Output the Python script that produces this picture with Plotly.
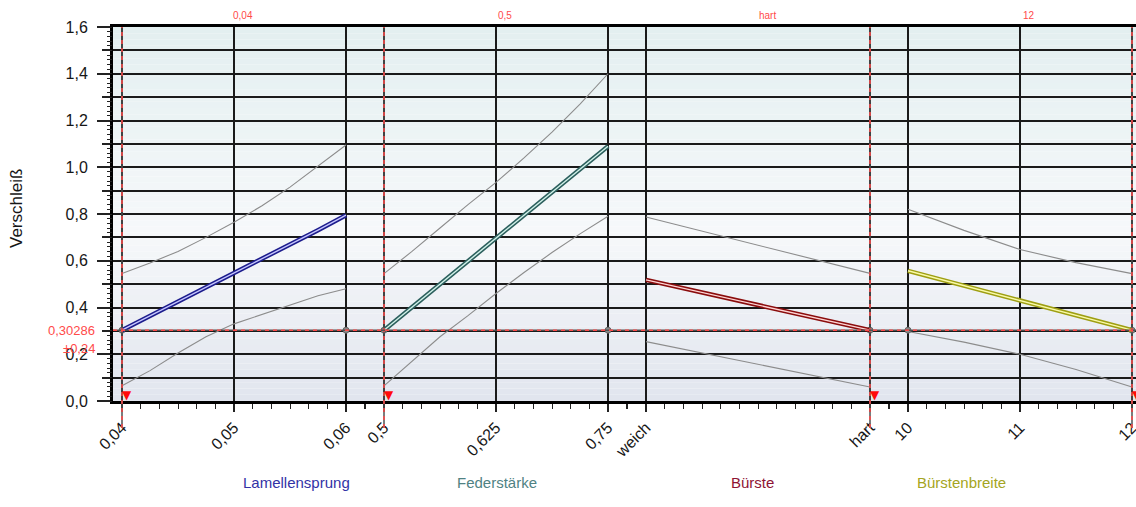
import numpy as np
import plotly.graph_objects as go

# ---------------- data ----------------
y_title = "Verschleiß"
factor_names = ["Lamellensprung", "Federstärke", "Bürste", "Bürstenbreite"]

lam_x = [0.04, 0.0425, 0.045, 0.0475, 0.05, 0.0525, 0.055, 0.0575, 0.06]
lam_pred = [0.303, 0.364, 0.425, 0.485, 0.545, 0.607, 0.669, 0.731, 0.795]
lam_upper = [0.545, 0.59, 0.64, 0.70, 0.765, 0.835, 0.915, 1.005, 1.095]
lam_lower = [0.065, 0.13, 0.205, 0.275, 0.33, 0.37, 0.41, 0.45, 0.48]

fed_x = [0.5, 0.53125, 0.5625, 0.59375, 0.625, 0.65625, 0.6875, 0.71875, 0.75]
fed_pred = [0.303, 0.401, 0.500, 0.598, 0.697, 0.795, 0.893, 0.992, 1.09]
fed_upper = [0.545, 0.64, 0.74, 0.84, 0.935, 1.04, 1.15, 1.27, 1.40]
fed_lower = [0.065, 0.17, 0.275, 0.365, 0.46, 0.55, 0.635, 0.715, 0.79]

bur_levels = ["weich", "hart"]
bur_pred = [0.518, 0.303]
bur_upper = [0.787, 0.546]
bur_lower = [0.254, 0.06]

bre_x = [10, 10.5, 11, 11.5, 12]
bre_pred = [0.557, 0.494, 0.43, 0.367, 0.303]
bre_upper = [0.82, 0.73, 0.648, 0.592, 0.545]
bre_lower = [0.297, 0.252, 0.20, 0.135, 0.06]

lam_ticks = [0.04, 0.05, 0.06]
lam_ticktext = ["0,04", "0,05", "0,06"]
fed_ticks = [0.5, 0.625, 0.75]
fed_ticktext = ["0,5", "0,625", "0,75"]
bre_ticks = [10, 11, 12]
bre_ticktext = ["10", "11", "12"]

y_ticks = [0.0, 0.2, 0.4, 0.6, 0.8, 1.0, 1.2, 1.4, 1.6]
y_ticktext = ["0,0", "0,2", "0,4", "0,6", "0,8", "1,0", "1,2", "1,4", "1,6"]

current_labels = ["0,04", "0,5", "hart", "12"]
predicted = 0.30286
predicted_text = "0,30286"
ci_text = "±0,24"

# ---------------- styles ----------------
title_colors = ["#3232a6", "#4f8283", "#8e1434", "#a5a522"]
outer_colors = ["#1c1c8c", "#2b5e5c", "#8a0c0c", "#9e9e12"]
inner_colors = ["#c6c6ff", "#d2f2ea", "#ffd4d4", "#fafaa8"]
grid_col = "#1a1a1a"
red = "#ff4a4a"
FONT = "Liberation Sans, Arial, sans-serif"

W, H = 1136, 507
ML, MR, MT, MB = 113, 0, 27, 106
plot_w = W - ML - MR
plot_h = H - MT - MB
span_px = 224
gap_px = 38
starts = [122, 384, 646, 908]

bur_pos = list(range(len(bur_levels)))

panels = [
    dict(x=lam_x, pred=lam_pred, up=lam_upper, lo=lam_lower, ticks=lam_ticks, tt=lam_ticktext),
    dict(x=fed_x, pred=fed_pred, up=fed_upper, lo=fed_lower, ticks=fed_ticks, tt=fed_ticktext),
    dict(x=bur_pos, pred=bur_pred, up=bur_upper, lo=bur_lower, ticks=bur_pos, tt=bur_levels),
    dict(x=bre_x, pred=bre_pred, up=bre_upper, lo=bre_lower, ticks=bre_ticks, tt=bre_ticktext),
]
current_values = [lam_x[0], fed_x[0], bur_pos[1], bre_x[-1]]
dot_positions = [[lam_x[0], lam_x[-1]], [fed_x[0], fed_x[-1]], [bur_pos[1]], [bre_x[0], bre_x[-1]]]

fig = go.Figure()
layout_axes = {}

for k, p in enumerate(panels):
    xa = "x" if k == 0 else f"x{k+1}"
    lo_v, hi_v = min(p["x"]), max(p["x"])
    left_px = ML if k == 0 else starts[k] - gap_px / 2
    right_px = (W - MR) if k == 3 else starts[k] + span_px + gap_px / 2
    scale = (hi_v - lo_v) / span_px
    rng = [lo_v - (starts[k] - left_px) * scale, hi_v + (right_px - starts[k] - span_px) * scale]
    dom = [(left_px - ML) / plot_w, (right_px - ML) / plot_w]
    name = "xaxis" if k == 0 else f"xaxis{k+1}"
    layout_axes[name] = dict(
        domain=dom, range=rng, anchor="y", automargin=False,
        tickmode="array", tickvals=p["ticks"], ticktext=p["tt"], tickangle=-45,
        tickfont=dict(size=16, family=FONT, color="#161616"),
        ticklabeloverflow="allow",
        showgrid=True, gridcolor=grid_col, gridwidth=1.8,
        ticks="outside", ticklen=8, tickwidth=1.5, tickcolor="#222",
        showline=True, linewidth=3, linecolor="black", mirror=True,
        zeroline=False, fixedrange=True,
        minor=dict(tickmode="linear", tick0=lo_v, dtick=(hi_v - lo_v) / 12,
                   ticks="outside", ticklen=5, tickwidth=1.2, tickcolor="#222", showgrid=False),
    )

    # confidence lines
    for band in (p["up"], p["lo"]):
        fig.add_trace(go.Scatter(x=p["x"], y=band, xaxis=xa, yaxis="y", mode="lines",
                                 line=dict(color="#8c8c8c", width=1.1), hoverinfo="skip",
                                 showlegend=False))
    # markers at the predicted level
    fig.add_trace(go.Scatter(x=dot_positions[k], y=[predicted] * len(dot_positions[k]),
                             xaxis=xa, yaxis="y", mode="markers",
                             marker=dict(color="#8a8a8a", size=6, line=dict(color="#666", width=1)),
                             hoverinfo="skip", showlegend=False, cliponaxis=False))
    # main prediction line (double stroke)
    fig.add_trace(go.Scatter(x=p["x"], y=p["pred"], xaxis=xa, yaxis="y", mode="lines",
                             line=dict(color=outer_colors[k], width=4.5), showlegend=False,
                             name=factor_names[k]))
    fig.add_trace(go.Scatter(x=p["x"], y=p["pred"], xaxis=xa, yaxis="y", mode="lines",
                             line=dict(color=inner_colors[k], width=1.4), showlegend=False,
                             hoverinfo="skip"))

    # current-setting vertical line (grey base + red dashes)
    for col, dash in (("#505050", "solid"), (red, "4px,4px")):
        fig.add_shape(type="line", xref=xa, yref="paper",
                      x0=current_values[k], x1=current_values[k],
                      y0=-27 / plot_h, y1=1, layer="above",
                      line=dict(color=col, width=1.5, dash=dash))
    # red triangle marker
    fig.add_annotation(x=current_values[k], xref=xa, y=0.026, yref="y", text="▼",
                       showarrow=False, xshift=5, font=dict(size=12, color="#ff0a0a", family="DejaVu Sans"))
    # top label
    mid = (lo_v + hi_v) / 2
    fig.add_annotation(x=mid, xref=xa, y=1, yref="paper", yanchor="bottom", yshift=4,
                       xshift=9, text=current_labels[k], showarrow=False,
                       font=dict(size=10, color=red, family=FONT))
    # bottom factor title
    fig.add_annotation(x=(k + 0.5) / 4, xref="paper", y=(401 - 493) / plot_h, yref="paper",
                       text=factor_names[k], showarrow=False,
                       font=dict(size=15, color=title_colors[k], family=FONT))

# horizontal predicted line
for col, dash in (("#505050", "solid"), (red, "4px,4px")):
    fig.add_shape(type="line", xref="paper", yref="y", x0=0, x1=1, y0=predicted, y1=predicted,
                  layer="above", line=dict(color=col, width=1.5, dash=dash))

fig.add_annotation(x=(97 - ML) / plot_w, xref="paper", y=predicted, yref="y", xanchor="right",
                   text=predicted_text, showarrow=False, font=dict(size=13, color=red, family=FONT))
fig.add_annotation(x=(97 - ML) / plot_w, xref="paper", y=predicted, yref="y", xanchor="right",
                   yshift=-18, text=ci_text, showarrow=False, font=dict(size=13, color=red, family=FONT))

# y title
fig.add_annotation(x=(17 - ML) / plot_w, xref="paper", y=(401 - 209) / plot_h, yref="paper",
                   xanchor="center", yanchor="middle",
                   text=y_title, textangle=-90, showarrow=False,
                   font=dict(size=17, color="#161616", family=FONT))

# background gradient bands
stops = [(0.0, (225, 229, 238)), (0.45, (246, 248, 250)), (1.0, (227, 239, 240))]
n = 60
for i in range(n):
    t = (i + 0.5) / n
    for (a, ca), (b, cb) in zip(stops[:-1], stops[1:]):
        if a <= t <= b:
            f = (t - a) / (b - a)
            c = tuple(int(round(ca[j] + (cb[j] - ca[j]) * f)) for j in range(3))
            break
    fig.add_shape(type="rect", xref="paper", yref="paper", x0=0, x1=1, y0=i / n, y1=(i + 1) / n,
                  layer="below", line=dict(width=0), fillcolor=f"rgb{c}")

fig.update_layout(
    width=W, height=H,
    margin=dict(l=ML, r=MR, t=MT, b=MB, autoexpand=False),
    paper_bgcolor="white", plot_bgcolor="rgba(0,0,0,0)",
    showlegend=False,
    font=dict(family=FONT),
    yaxis=dict(
        domain=[0, 1], range=[0, 1.6], anchor="x", automargin=False,
        tickmode="array", tickvals=y_ticks, ticktext=y_ticktext,
        tickfont=dict(size=16, family=FONT, color="#161616"),
        ticks="outside", ticklen=13, tickwidth=1.5, tickcolor="#222",
        ticklabelstandoff=6,
        showgrid=True, gridcolor=grid_col, gridwidth=1.8,
        showline=True, linewidth=3, linecolor="black",
        zeroline=False, fixedrange=True,
        minor=dict(tickmode="linear", tick0=0, dtick=0.1, ticks="outside", ticklen=8,
                   tickwidth=1.5, tickcolor="#222", showgrid=True, gridcolor=grid_col, gridwidth=1.8),
    ),
    yaxis2=dict(
        range=[0, 1.6], overlaying="y", anchor="x", side="left", automargin=False,
        tickmode="linear", tick0=0, dtick=0.02, ticks="outside", ticklen=5, tickwidth=1.2,
        tickcolor="#222", showticklabels=False, showgrid=False, showline=False, zeroline=False,
        fixedrange=True,
    ),
    **layout_axes,
)
fig.add_trace(go.Scatter(x=[], y=[], xaxis="x", yaxis="y2", showlegend=False, hoverinfo="skip"))

fig.write_html(
    "out.html",
    config={"displayModeBar": False},
    post_script="document.body.style.margin='0';document.body.style.overflow='hidden';",
)
